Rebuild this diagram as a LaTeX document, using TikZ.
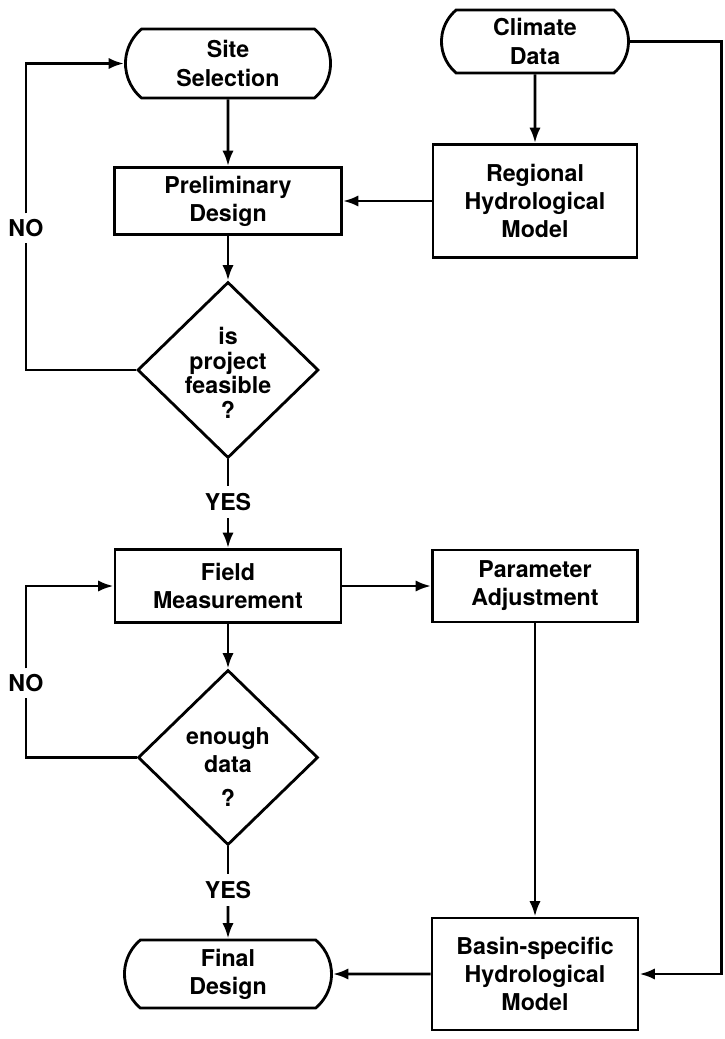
\documentclass[tikz,border=0pt]{standalone}
\usepackage{fontspec}
\setmainfont{TeX Gyre Heros}
\usetikzlibrary{arrows.meta}
\usetikzlibrary{shapes.geometric,shapes.misc}

\tikzset{
  flow/.style={line width=2pt},
  arr/.style={flow,-{Latex[length=11pt,width=8pt]}},
  txt/.style={font=\bfseries\fontsize{16.5}{20}\selectfont, align=center},
  term/.style={txt,draw,flow,rounded rectangle,rounded rectangle arc length=100,inner sep=0pt},
  proc/.style={txt,draw,flow,rectangle,inner sep=0pt},
  decision/.style={draw,flow,diamond,inner sep=0pt},
  answer/.style={txt,fill=white,inner sep=4pt}
}

\begin{document}
\begin{tikzpicture}[x=0.025cm,y=-0.025cm]
 \useasboundingbox (0,0) rectangle (724,1039);

 % left column
 \node[term,minimum width=5.125cm,minimum height=1.725cm] (site) at (228,63.5) {Site\\Selection};
 \node[proc,minimum width=5.675cm,minimum height=1.675cm] (prelim) at (228,201) {Preliminary\\Design};
 \node[decision,minimum width=4.525cm,minimum height=4.4cm,
   label={[txt,font=\bfseries\fontsize{16.5}{17.5}\selectfont,yshift=-2pt]center:is\\project\\feasible\\?}] (feasible) at (228,370) {};
 \node[proc,minimum width=5.65cm,minimum height=1.825cm] (field) at (228,586) {Field\\Measurement};
 \node[decision,minimum width=4.5cm,minimum height=4.375cm,
   label={[txt,yshift=-7pt]center:enough\\data\\[4pt]?}] (enough) at (228,757.5) {};
 \node[term,minimum width=5.175cm,minimum height=1.7cm] (final) at (228,974) {Final\\Design};

 % right column
 \node[term,minimum width=4.675cm,minimum height=1.575cm] (climate) at (535,41.5) {Climate\\Data};
 \node[proc,minimum width=5.1cm,minimum height=2.825cm] (regional) at (535,201) {Regional\\Hydrological\\Model};
 \node[proc,minimum width=5.125cm,minimum height=1.8cm] (param) at (535,586) {Parameter\\Adjustment};
 \node[proc,minimum width=5.15cm,minimum height=2.8cm] (basin) at (535,974) {Basin-specific\\Hydrological\\Model};

 \node[answer] (no1) at (26,228) {NO};
 \node[answer] (no2) at (26,683) {NO};
 \node[answer,inner sep=5pt] (yes1) at (228,502) {YES};
 \node[answer,inner sep=5pt] (yes2) at (228,890) {YES};
 \coordinate (corner) at (721.5,41.5);

 \draw[arr] (site) -- (prelim);
 \draw[arr] (climate) -- (regional);
 \draw[arr] (regional) -- (prelim);
 \draw[arr] (prelim) -- (feasible);
 \draw[flow] (feasible.west) -| (no1.south);
 \draw[arr] (no1.north) |- (site.west);
 \draw[flow] (feasible.south) -- (yes1);
 \draw[arr] (yes1) -- (field);
 \draw[arr] (field) -- (param);
 \draw[arr] (field) -- (enough);
 \draw[flow] (enough.west) -| (no2.south);
 \draw[arr] (no2.north) |- (field.west);
 \draw[flow] (enough.south) -- (yes2);
 \draw[arr] (yes2) -- (final);
 \draw[arr] (param) -- (basin);
 \draw[arr] (basin) -- (final);
 \draw[arr] (climate.east) -- (corner) |- (basin.east);

\end{tikzpicture}
\end{document}
